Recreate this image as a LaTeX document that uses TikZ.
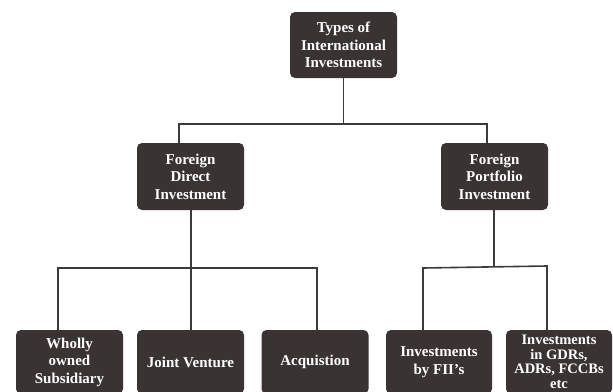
\documentclass[tikz,border=0pt]{standalone}
\usepackage{fontspec}
\setmainfont{Liberation Serif}
\usetikzlibrary{calc}
\definecolor{boxfill}{HTML}{3A3334}
\definecolor{linecol}{HTML}{3C3A3B}
\begin{document}
\begin{tikzpicture}[x=1pt,y=-1pt,
  box/.style={fill=boxfill, rounded corners=5pt, minimum width=107pt, text=white,
    font=\bfseries\fontsize{15}{17.5}\selectfont, align=center, inner sep=0pt},
  conn/.style={draw=linecol, line width=1.6pt}]
\useasboundingbox (0,0) rectangle (613,391);
\clip (0,0) rectangle (613,391);
% nodes
\node[box, minimum height=66pt] (top) at (343.5,45) {Types of\\International\\Investments};
\node[box, minimum height=67pt] (fdi) at (190.5,176.5) {Foreign\\Direct\\Investment};
\node[box, minimum height=67pt] (fpi) at (494.5,176.5) {Foreign\\Portfolio\\Investment};
\node[box, minimum width=107pt, minimum height=64pt] (wos) at (69.5,362) {Wholly\\owned\\Subsidiary};
\node[box, minimum height=64pt] (jv) at (190.5,362) {Joint Venture};
\node[box, minimum height=64pt] (acq) at (315,362) {Acquistion};
\node[box, minimum width=106pt, minimum height=64pt] (fii) at (439,362) {Investments\\by FII\char"0027 s};
\node[box, minimum width=106pt, minimum height=64pt, font=\bfseries\fontsize{14.5}{14.5}\selectfont] (gdr) at (559,362) {Investments\\in GDRs,\\ADRs, FCCBs\\etc};
% junction coordinates
\coordinate (aL) at (179,124);
\coordinate (aR) at (487,124);
\coordinate (bL) at (58,268);
\coordinate (bM) at (191,268);
\coordinate (bR) at (317,268);
\coordinate (cL) at (423,268);
\coordinate (cM) at (494,267);
\coordinate (cR) at (547,266);
% connectors
\draw[conn] (top.south) -- (top.south |- aL);
\draw[conn] (aL |- fdi.north) -- (aL) -- (aR) -- (aR |- fpi.north);
\draw[conn] (bM |- fdi.south) -- (bM |- wos.north);
\draw[conn] (bL |- wos.north) -- (bL) -- (bR) -- (bR |- acq.north);
\draw[conn] (cM |- fpi.south) -- (cM);
\draw[conn] (cL |- fii.north) -- (cL) -- (cR) -- (cR |- gdr.north);
\end{tikzpicture}
\end{document}
